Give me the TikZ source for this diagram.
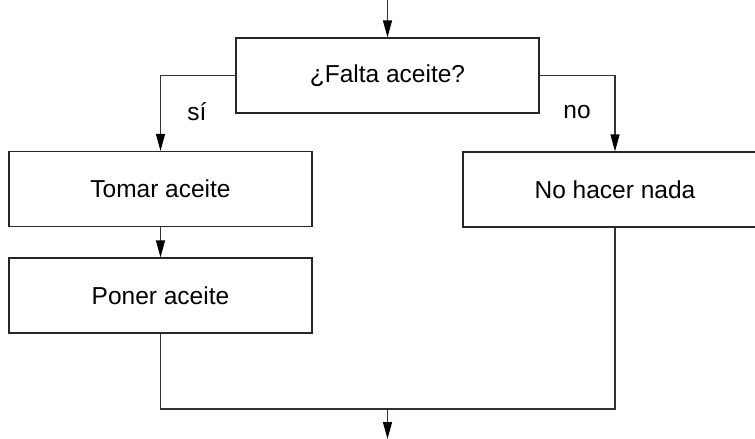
\documentclass[tikz,border=0pt]{standalone}
\usepackage{fontspec}
\setmainfont{Liberation Sans}
\usetikzlibrary{arrows.meta,positioning}
\tikzset{
	box/.style={draw=black!85,line width=1.2pt,minimum width=303pt,minimum height=75pt,inner sep=0pt,font=\fontsize{24.5}{28}\selectfont},
	tag/.style={inner sep=0pt,font=\fontsize{24.5}{28}\selectfont},
	line/.style={draw=black!80,line width=1.2pt},
	arrow/.style={line,-{Triangle[length=17pt,width=9pt,color=black]}}
}

\begin{document}
\begin{tikzpicture}[x=1pt,y=1pt]
	\def \lx {160.5}
	\def \mx {387.5}
	\def \rx {615}
	\useasboundingbox (0,0) rectangle (755,-439);
	\clip (0,0) rectangle (755,-439);

	% boxes
	\node (falta) at (\mx,-75.5) [box] {¿Falta aceite?};
	\node (tomar) at (\lx,-189) [box] {Tomar aceite};
	\node (poner) at (\lx,-295.5) [box] {Poner aceite};
	\node (nada) at (\rx,-189.5) [box,minimum width=304pt] {No hacer nada};

	% labels
	\node (si) at (197,-112) [tag] {sí};
	\node (no) at (577,-112) [tag] {no};

	% ends
	\coordinate (entra) at (\mx,0);
	\coordinate (junta) at (\mx,-409);
	\coordinate (sale) at (\mx,-439);

	% connectors
	\draw [arrow] (entra) -- (falta.north);
	\draw [arrow] (falta.west) -| (tomar.north);
	\draw [arrow] (falta.east) -| (nada.north);
	\draw [arrow] (tomar.south) -- (poner.north);
	\draw [line] (poner.south) |- (junta) -| (nada.south);
	\draw [arrow] (junta) -- (sale);
\end{tikzpicture}
\end{document}
